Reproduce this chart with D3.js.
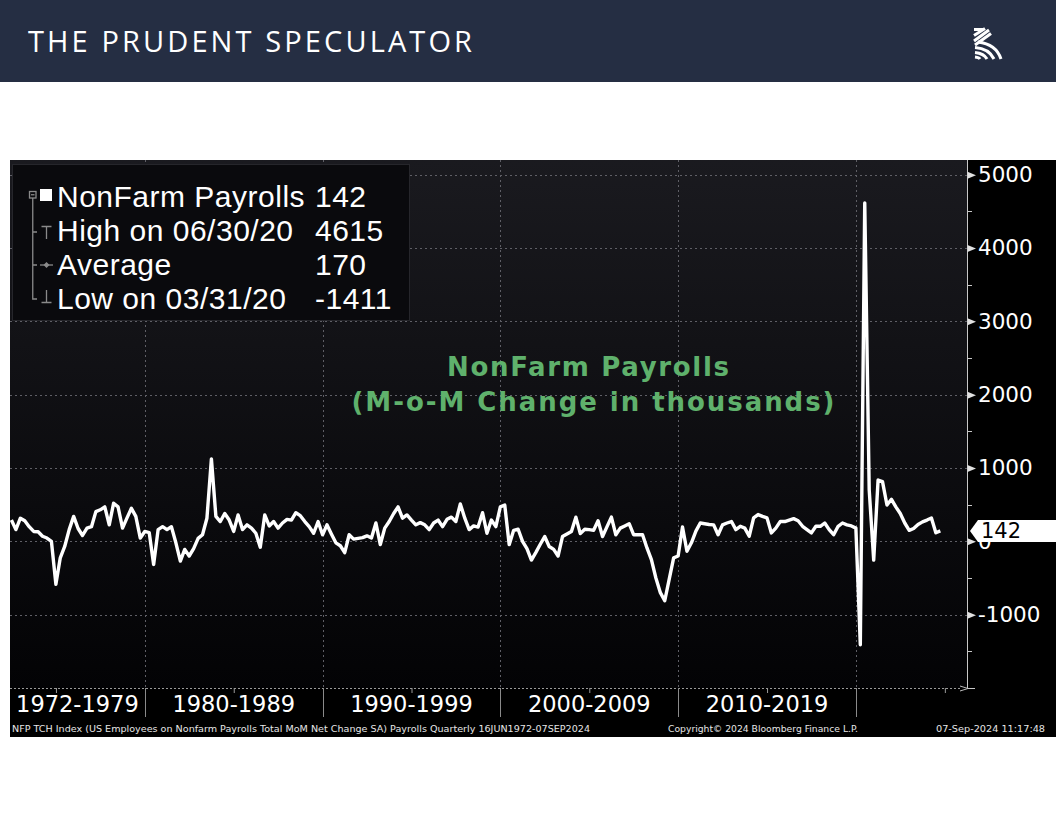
<!DOCTYPE html>
<html><head><meta charset="utf-8">
<script src="https://cdn.jsdelivr.net/npm/d3@7"></script>
<style>body{margin:0;background:#fff;} svg{display:block;}</style>
</head><body>
<svg id="c" width="1056" height="816"></svg>
<script>
// ---------------- DATA ----------------
const firstQuarterEnd = [1972, 6];   // June 1972, quarterly observations
const payrolls = [
 290,160,315,280,200,135,130,70,45,0,
 -585,-225,-70,160,340,175,80,180,200,405,
 430,470,225,520,470,180,320,450,340,45,
 135,120,-315,160,200,160,200,-20,-270,-110,
 -200,-100,40,90,315,1125,340,270,380,290,
 135,360,160,225,180,110,-80,360,210,270,
 180,250,300,290,390,350,270,200,110,270,
 90,225,100,-20,-60,-155,90,30,40,50,
 75,45,250,-45,180,270,380,470,315,360,
 290,225,255,225,160,250,290,200,300,330,
 270,510,315,160,210,195,390,110,290,200,
 470,495,-45,150,165,0,-100,-255,-150,-40,
 65,-70,-110,-200,65,100,135,330,105,165,
 160,150,280,65,200,330,90,180,210,240,
 90,90,90,-90,-250,-500,-700,-810,-520,-225,
 -200,195,-135,-20,140,250,240,230,225,90,
 225,250,270,160,205,180,70,320,365,340,
 320,115,180,270,270,290,310,280,205,160,
 115,205,205,250,160,90,205,250,225,210,
 180,-1411,4615,700,-255,836,815,495,573,470,
 380,250,150,175,230,265,290,318,117,142
];
const yTicks = [-1000, 0, 1000, 2000, 3000, 4000, 5000];
const yMinorTicks = [-1500, -500, 500, 1500, 2500, 3500, 4500];
const decadeBreaks = [1980, 1990, 2000, 2010, 2020];
const halfDecadeTicks = [1975, 1985, 1995, 2005, 2015, 2025];
const decadeLabels = ["1972-1979", "1980-1989", "1990-1999", "2000-2009", "2010-2019"];
const legendLabels = ["NonFarm Payrolls", "High on 06/30/20", "Average", "Low on 03/31/20"];
const legendValues = ["142", "4615", "170", "-1411"];
const lastValueLabel = "142";
const chartTitle = ["NonFarm Payrolls", "(M-o-M Change in thousands)"];
const headerTitle = "THE PRUDENT SPECULATOR";
const footerLeft = "NFP TCH Index (US Employees on Nonfarm Payrolls Total MoM Net Change SA) Payrolls  Quarterly 16JUN1972-07SEP2024";
const footerMid = "Copyright\u00A9 2024 Bloomberg Finance L.P.";
const footerRight = "07-Sep-2024 11:17:48";

const data = payrolls.map((v, i) => ({
  date: new Date(firstQuarterEnd[0], firstQuarterEnd[1] + 3 * i, 0),
  v
}));

// ---------------- LAYOUT ----------------
const svg = d3.select("#c");
const P = {left: 10, right: 967, top: 160, bottom: 688};

const x = d3.scaleTime().domain([new Date(1972, 5, 1), new Date(2026, 3, 1)]).range([P.left, P.right]);
const y = d3.scaleLinear().domain([-2000, 5200]).range([P.bottom, P.top]);

const defs = svg.append("defs");
const grad = defs.append("linearGradient").attr("id", "bg").attr("x1", 0).attr("y1", 0).attr("x2", 0).attr("y2", 1);
grad.append("stop").attr("offset", "0%").attr("stop-color", "#1a1a1f");
grad.append("stop").attr("offset", "100%").attr("stop-color", "#030305");

// Header
svg.append("rect").attr("x", 0).attr("y", 0).attr("width", 1056).attr("height", 82).attr("fill", "#252e43");
svg.append("text").attr("x", 28).attr("y", 52).text(headerTitle)
  .attr("font-family", "Open Sans").attr("font-size", 29).attr("fill", "#fff")
  .attr("textLength", 444).attr("lengthAdjust", "spacing");
// Logo
const logo = svg.append("g").attr("fill", "none").attr("stroke", "#fff").attr("stroke-width", 3);
logo.append("path").attr("d", "M974,29.5 H983");
logo.append("path").attr("d", "M974,35.5 L985,28.5");
logo.append("path").attr("d", "M974,41 L989,30");
logo.append("path").attr("d", "M975,45 L991,33.5");
logo.append("path").attr("d", "M978,42 Q996,44 1001,59");
logo.append("path").attr("d", "M975,47.5 Q989,48.5 994,59");
logo.append("path").attr("d", "M975,52.5 Q984,53.5 987,59");
logo.append("path").attr("d", "M975,57 Q979,57.5 980,59");

// Chart panel
svg.append("rect").attr("x", 10).attr("y", 160).attr("width", 1046).attr("height", 577).attr("fill", "#000");
svg.append("rect").attr("x", P.left).attr("y", P.top).attr("width", P.right - P.left).attr("height", P.bottom - P.top).attr("fill", "url(#bg)");

// Grid
const grid = svg.append("g").attr("stroke", "#5f5f66").attr("stroke-width", 1).attr("stroke-dasharray", "2,3");
grid.selectAll("line.h").data(yTicks).join("line")
  .attr("x1", P.left).attr("x2", P.right).attr("y1", d => Math.round(y(d)) + 0.5).attr("y2", d => Math.round(y(d)) + 0.5);
grid.selectAll("line.v").data(decadeBreaks).join("line")
  .attr("y1", P.top).attr("y2", P.bottom)
  .attr("x1", d => Math.round(x(new Date(d, 0, 1))) + 0.5).attr("x2", d => Math.round(x(new Date(d, 0, 1))) + 0.5);

// Green title
const tg = svg.append("g").attr("fill", "#5fb16c").attr("font-family", "DejaVu Sans").attr("font-weight", "bold").attr("font-size", 26).attr("text-anchor", "middle");
tg.append("text").attr("x", 588).attr("y", 376).text(chartTitle[0]).attr("textLength", 282).attr("lengthAdjust", "spacing");
tg.append("text").attr("x", 593).attr("y", 411).text(chartTitle[1]).attr("textLength", 483).attr("lengthAdjust", "spacing");

// Legend
const lg = svg.append("g");
lg.append("rect").attr("x", 12.5).attr("y", 164.5).attr("width", 397).attr("height", 156).attr("fill", "#0a0a0d").attr("stroke", "#26262b");
const gray = "#8a8a8a";
const tree = lg.append("g").attr("stroke", gray).attr("stroke-width", 1.3).attr("fill", "none");
tree.append("rect").attr("x", 29.5).attr("y", 191.5).attr("width", 6.5).attr("height", 6.5);
tree.append("line").attr("x1", 31).attr("x2", 34.5).attr("y1", 194.75).attr("y2", 194.75);
tree.append("path").attr("d", "M32.75,198 V299 H37 M32.75,232 H37 M32.75,265 H37");
lg.append("rect").attr("x", 40).attr("y", 189).attr("width", 12).attr("height", 12).attr("fill", "#fff");
tree.append("path").attr("d", "M41.5,226.5 H51.5 M46.5,226.5 V239");
tree.append("path").attr("d", "M40,265 H53");
lg.append("path").attr("d", "M46.5,262 L49.5,265 L46.5,268 L43.5,265 Z").attr("fill", gray);
tree.append("path").attr("d", "M46.5,290 V302.5 M41.5,302.5 H51.5");
const rowY = [207, 241, 275, 309];
const legendFont = {family: "Liberation Sans", size: 30, spacing: 0.5};
lg.selectAll("text.l").data(legendLabels).join("text")
  .attr("x", 57).attr("y", (d, i) => rowY[i]).text(d => d)
  .attr("font-family", legendFont.family).attr("font-size", legendFont.size).attr("letter-spacing", legendFont.spacing).attr("fill", "#fff");
lg.selectAll("text.v").data(legendValues).join("text")
  .attr("x", 315).attr("y", (d, i) => rowY[i]).text(d => d)
  .attr("font-family", legendFont.family).attr("font-size", legendFont.size).attr("letter-spacing", legendFont.spacing).attr("fill", "#fff");

// Series line
svg.append("path").datum(data)
  .attr("d", d3.line().x(d => x(d.date)).y(d => y(d.v)))
  .attr("fill", "none").attr("stroke", "#fff").attr("stroke-width", 3.4).attr("stroke-linejoin", "round");

// Right axis
const yAxis = d3.axisRight(y).tickValues(yTicks).tickSize(0).tickPadding(11).tickFormat(d => String(d));
const ya = svg.append("g").attr("transform", `translate(${P.right},0)`).call(yAxis);
ya.select(".domain").attr("stroke", "#c8c8c8").attr("d", `M0.5,${P.top}V${P.bottom}.5H8`);
ya.selectAll("text").attr("fill", "#fff").attr("font-family", "DejaVu Sans").attr("font-size", 21.5);
ya.selectAll(".tick").append("path").attr("d", "M0.5,-3.5 L9,0 L0.5,3.5 Z").attr("fill", "#e0e0e0");
ya.selectAll("line.minor").data(yMinorTicks).join("line").attr("class", "minor")
  .attr("x1", 0).attr("x2", 5).attr("y1", d => Math.round(y(d)) + 0.5).attr("y2", d => Math.round(y(d)) + 0.5)
  .attr("stroke", "#c8c8c8");

// Last value callout
const ly = y(payrolls[payrolls.length - 1]);
svg.append("path").attr("d", `M970,${ly} L978,${ly - 11} H1056 V${ly + 11} H978 Z`).attr("fill", "#fff");
svg.append("text").attr("x", 981).attr("y", ly + 7.5).text(lastValueLabel)
  .attr("font-family", "DejaVu Sans").attr("font-size", 21).attr("fill", "#000");

// Bottom axis band
const xb = svg.append("g");
xb.append("line").attr("x1", P.left).attr("x2", 962).attr("y1", P.bottom + 0.5).attr("y2", P.bottom + 0.5)
  .attr("stroke", "#9a9a9a").attr("stroke-dasharray", "2,2");
xb.append("path").attr("d", `M960,${P.bottom - 2} L968,${P.bottom + 0.5} L960,${P.bottom + 3}`).attr("fill", "none").attr("stroke", "#bbb");
const xAxis = d3.axisBottom(x).tickValues(halfDecadeTicks.map(d => new Date(d, 0, 1))).tickSize(5).tickFormat("");
const xa = xb.append("g").attr("transform", `translate(0,${P.bottom})`).call(xAxis);
xa.select(".domain").remove();
xa.selectAll("line").attr("stroke", "#9a9a9a");
xb.selectAll("line.sep").data(decadeBreaks).join("line").attr("class", "sep")
  .attr("x1", d => Math.round(x(new Date(d, 0, 1))) + 0.5).attr("x2", d => Math.round(x(new Date(d, 0, 1))) + 0.5)
  .attr("y1", P.bottom).attr("y2", 717).attr("stroke", "#8a8a8a");
const bounds = [P.left].concat(decadeBreaks.map(d => x(new Date(d, 0, 1))));
xb.selectAll("text.dl").data(decadeLabels).join("text")
  .attr("x", (d, i) => (bounds[i] + bounds[i + 1]) / 2).attr("y", 712).attr("text-anchor", "middle")
  .text(d => d).attr("font-family", "DejaVu Sans").attr("font-size", 22.5).attr("fill", "#fff");

// Footer
const ft = svg.append("g").attr("font-family", "DejaVu Sans").attr("font-size", 8.5).attr("fill", "#e6e6e6");
ft.append("text").attr("x", 12).attr("y", 732).text(footerLeft).attr("textLength", 578).attr("lengthAdjust", "spacingAndGlyphs");
ft.append("text").attr("x", 668).attr("y", 732).text(footerMid).attr("textLength", 190).attr("lengthAdjust", "spacingAndGlyphs");
ft.append("text").attr("x", 1045).attr("y", 732).attr("text-anchor", "end").text(footerRight).attr("textLength", 109).attr("lengthAdjust", "spacingAndGlyphs");
</script>
</body></html>
